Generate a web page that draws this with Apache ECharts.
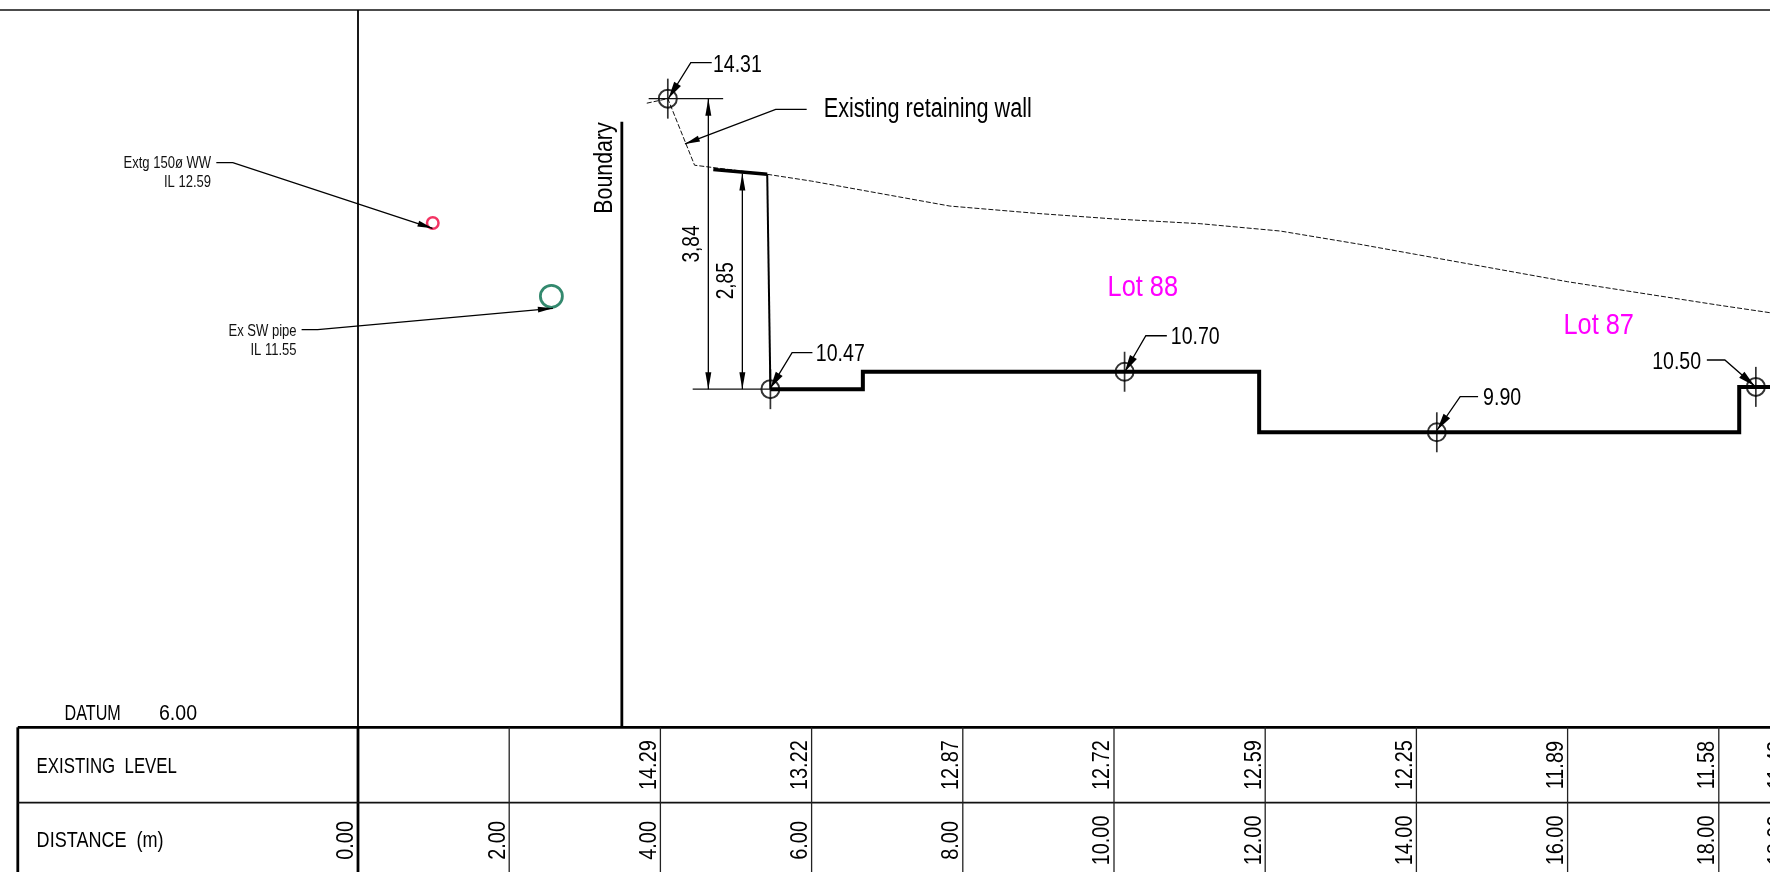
<!DOCTYPE html>
<html><head><meta charset="utf-8">
<style>html,body{margin:0;padding:0;background:#fff}#c{width:1770px;height:872px}</style>
<script src="https://cdn.jsdelivr.net/npm/echarts@6/dist/echarts.min.js"></script>
</head><body><div id="c"></div>
<script>
// ---- Chainage table ----
const distances = [2, 4, 6, 8, 10, 12, 14, 16, 18, 18.92];
const distanceLabels = ['2.00','4.00','6.00','8.00','10.00','12.00','14.00','16.00','18.00','18.92'];
const levelDistances = [4, 6, 8, 10, 12, 14, 16, 18, 18.92];
const existingLevels = [14.29, 13.22, 12.87, 12.72, 12.59, 12.25, 11.89, 11.58, 11.43];
// ---- Profiles: [distance, level] ----
const groundApproach = [[3.82,14.25],[4.098,14.31],[4.452,13.43],[5.413,13.31]];
const existingSurface = [[5.413,13.31],[6,13.22],[7.83,12.89],[9.02,12.79],[10,12.72],[11.14,12.657],[12.2,12.56],[13.25,12.385],[14,12.25],[16,11.89],[18,11.58],[18.68,11.48]];
const wallTop = [[4.70,13.374],[5.413,13.312]];
const wallFace = [[5.413,13.312],[5.455,10.47]];
const padLevels = [[5.455,10.47],[6.678,10.47],[6.678,10.70],[11.92,10.70],[11.92,9.90],[18.27,9.90],[18.27,10.50],[18.72,10.50]];
const spotPoints = [[4.098,14.31],[5.455,10.47],[10.14,10.70],[14.27,9.90],[18.49,10.50]];
const pipeWW = [[0.989,12.666]];
const pipeSW = [[2.558,11.697]];
// ---- Leaders: polyline ending at arrow tip ----
const thinLeaders = [
  [[-1.874,13.463],[-1.656,13.463],[0.985,12.596]],
  [[-0.746,11.256],[-0.534,11.256],[2.578,11.539]],
  [[5.935,14.169],[5.525,14.169],[4.325,13.711]]
];
const spotLeaders = [
  [[4.679,14.785],[4.402,14.785],[4.108,14.315]],
  [[6.011,10.952],[5.742,10.952],[5.454,10.481]],
  [[10.699,11.176],[10.421,11.176],[10.144,10.70]],
  [[14.816,10.370],[14.579,10.370],[14.275,9.93]],
  [[17.842,10.855],[18.08,10.855],[18.474,10.513]]
];
const dimensions = [
  [[4.634,14.31],[4.634,10.47]],
  [[5.084,13.32],[5.084,10.47]]
];
const extensionLines = [
  [[3.845,14.31],[4.83,14.31]],
  [[4.427,10.47],[5.455,10.47]]
];
// ---- Texts: text, distance, level, align, size, colour, vertical, width factor ----
const FONT = '"Liberation Sans",Arial,sans-serif';
const texts = [
  ['Extg 150ø WW',-1.943,13.463,'right',16,'#111',0,0.815],
  ['IL 12.59',-1.943,13.212,'right',16,'#111',0,0.815],
  ['Ex SW pipe',-0.812,11.243,'right',16,'#111',0,0.815],
  ['IL 11.55',-0.812,10.991,'right',16,'#111',0,0.815],
  ['Existing retaining wall',6.16,14.2,'left',27,'#000',0,0.802],
  ['14.31',4.695,14.777,'left',23,'#000',0,0.85],
  ['10.47',6.056,10.944,'left',23,'#000',0,0.85],
  ['10.70',10.751,11.17,'left',23,'#000',0,0.85],
  ['9.90',14.882,10.37,'left',23,'#000',0,0.85],
  ['10.50',17.766,10.851,'right',23,'#000',0,0.85],
  ['Lot 88',9.915,11.847,'left',30,'#ff00ff',0,0.845],
  ['Lot 87',15.945,11.34,'left',30,'#ff00ff',0,0.845],
  ['3,84',4.402,12.389,'center',23,'#000',1,0.83],
  ['2,85',4.847,11.903,'center',23,'#000',1,0.83],
  ['Boundary',3.239,13.393,'center',26,'#000',1,0.82],
  ['DATUM',-3.882,6.205,'left',22,'#000',0,0.735],
  ['6.00',-2.633,6.205,'left',22,'#000',0,0.89],
  ['EXISTING  LEVEL',-4.251,5.495,'left',22,'#000',0,0.765],
  ['DISTANCE  (m)',-4.251,4.515,'left',22,'#000',0,0.82]
];
// ---- Frame lines: [x1,y1,x2,y2,width,colour] ----
const frameLines = [
  [-4.74,15.482,18.7,15.482,1.5,'#111'],
  [0,15.482,0,6,1.8,'#000'],
  [3.49,14.005,3.49,6,2.8,'#000'],
  [-4.5,6,18.7,6,2.8,'#000'],
  [-4.5,6,-4.5,4.087,2.8,'#000'],
  [0,6,0,4.087,2.8,'#000'],
  [-4.5,5.003,18.7,5.003,1.8,'#111']
];
const LABEL_OFFSET = 0.17;
const levelRowCentre = 5.5, distRowCentre = 4.505;

const xMin = -358/75.6, xMax = (1770-358)/75.6;
const yMax = 6 + 727.3/75.65, yMin = 6 - 144.7/75.65;

function polyLineEl(api, pts, width, color){
  return {type:'polyline', shape:{points:pts.map(p=>api.coord(p))}, style:{stroke:color, lineWidth:width, fill:null}};
}
function arrowEl(api, from, tip, len, hw){
  const a = api.coord(from), b = api.coord(tip);
  const dx=b[0]-a[0], dy=b[1]-a[1], L=Math.hypot(dx,dy), ux=dx/L, uy=dy/L;
  const bx=b[0]-ux*len, by=b[1]-uy*len;
  return {type:'polygon', shape:{points:[b,[bx-uy*hw,by+ux*hw],[bx+uy*hw,by-ux*hw]]}, style:{fill:'#000'}};
}
function textEl(api, t){
  const p = api.coord([t[1],t[2]]);
  const shift = 0.08*t[4];           // centres the glyphs rather than the em box
  return {type:'text', x:p[0]+(t[6]?shift:0), y:p[1]+(t[6]?0:shift), rotation:t[6]?Math.PI/2:0, scaleX:t[7], scaleY:1,
    style:{text:t[0], fill:t[5], font:t[4]+'px '+FONT, align:t[3], verticalAlign:'middle'}};
}
function staticSeries(build, z){
  return {type:'custom', coordinateSystem:'cartesian2d', silent:true, clip:false, z:z, data:[[0,0]],
    encode:{x:0,y:1},
    renderItem:(params,api)=>({type:'group', children:build(api)})};
}

const tableSeries = staticSeries(api=>{
  const els=[];
  frameLines.forEach(f=>els.push(polyLineEl(api,[[f[0],f[1]],[f[2],f[3]]],f[4],f[5])));
  distances.forEach(d=>els.push(polyLineEl(api,[[d,6],[d,yMin]],1.3,'#222')));
  return els;
},1);
const tableTextSeries = staticSeries(api=>{
  const els=[];
  levelDistances.forEach((d,i)=>els.push(textEl(api,[existingLevels[i].toFixed(2),d-LABEL_OFFSET,levelRowCentre,'center',23,'#000',1,0.865])));
  els.push(textEl(api,['0.00',-LABEL_OFFSET,distRowCentre,'center',23,'#000',1,0.865]));
  distances.forEach((d,i)=>els.push(textEl(api,[distanceLabels[i],d-LABEL_OFFSET,distRowCentre,'center',23,'#000',1,0.865])));
  return els;
},5);
const annotationSeries = staticSeries(api=>{
  const els=[];
  extensionLines.forEach(l=>els.push(polyLineEl(api,l,1.3,'#111')));
  dimensions.forEach(l=>{
    els.push(polyLineEl(api,l,1.3,'#000'));
    els.push(arrowEl(api,l[1],l[0],17,3));
    els.push(arrowEl(api,l[0],l[1],17,3));
  });
  thinLeaders.forEach(l=>{
    els.push(polyLineEl(api,l,1.3,'#000'));
    els.push(arrowEl(api,l[l.length-2],l[l.length-1],15,3));
  });
  spotLeaders.forEach(l=>{
    els.push(polyLineEl(api,l,1.3,'#000'));
    els.push(arrowEl(api,l[l.length-2],l[l.length-1],17,4));
  });
  texts.forEach(t=>els.push(textEl(api,t)));
  return els;
},6);

const option = {
  animation:false,
  backgroundColor:'#fff',
  grid:{left:0,right:0,top:0,bottom:0,containLabel:false},
  xAxis:{type:'value',min:xMin,max:xMax,show:false,splitLine:{show:false}},
  yAxis:{type:'value',min:yMin,max:yMax,show:false,splitLine:{show:false}},
  series:[
    tableSeries,
    {name:'Existing ground approach',type:'line',z:3,symbol:'none',data:groundApproach,lineStyle:{color:'#111',width:1,type:[5,2]}},
    {name:'Existing surface',type:'line',z:3,symbol:'none',data:existingSurface,lineStyle:{color:'#111',width:1,type:[5,2]}},
    {name:'Wall top',type:'line',z:4,symbol:'none',data:wallTop,lineStyle:{color:'#000',width:3.5}},
    {name:'Wall face',type:'line',z:4,symbol:'none',data:wallFace,lineStyle:{color:'#000',width:2}},
    {name:'Finished level',type:'line',z:4,symbol:'none',data:padLevels,lineStyle:{color:'#000',width:4,join:'miter'}},
    {name:'Spot circle',type:'scatter',z:5,data:spotPoints,symbol:'circle',symbolSize:18,itemStyle:{color:'rgba(0,0,0,0)',borderColor:'#000',borderWidth:2}},
    {name:'Spot tick',type:'scatter',z:5,data:spotPoints,symbol:'rect',symbolSize:[1.7,40],itemStyle:{color:'#000'}},
    {name:'Extg WW',type:'scatter',z:5,data:pipeWW,symbol:'circle',symbolSize:11.5,itemStyle:{color:'#fff',borderColor:'#f0003c',borderWidth:2.5}},
    {name:'Ex SW',type:'scatter',z:5,data:pipeSW,symbol:'circle',symbolSize:22,itemStyle:{color:'#fff',borderColor:'#006b4a',borderWidth:2.8}},
    annotationSeries,
    tableTextSeries
  ]
};
echarts.init(document.getElementById('c')).setOption(option);
</script></body></html>
